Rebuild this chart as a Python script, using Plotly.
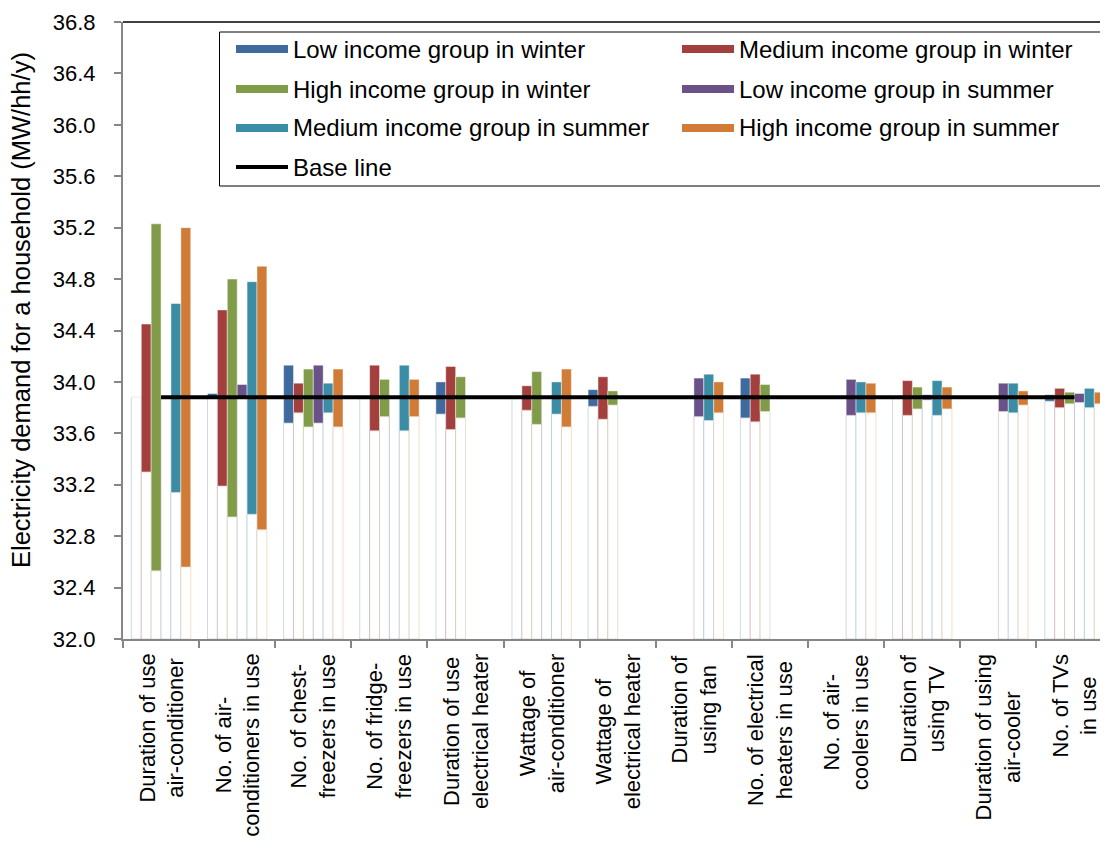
import plotly.graph_objects as go

# categories (x axis)
categories = [
    "Duration of use<br>air-conditioner",
    "No. of air-<br>conditioners in use",
    "No. of chest-<br>freezers in use",
    "No. of fridge-<br>freezers in use",
    "Duration of use<br>electrical heater",
    "Wattage of<br>air-conditioner",
    "Wattage of<br>electrical heater",
    "Duration of<br>using fan",
    "No. of electrical<br>heaters in use",
    "No. of air-<br>coolers in use",
    "Duration of<br>using TV",
    "Duration of using<br>air-cooler",
    "No. of TVs<br>in use",
]

series_names = [
    "Low income group in winter",
    "Medium income group in winter",
    "High income group in winter",
    "Low income group in summer",
    "Medium income group in summer",
    "High income group in summer",
]
series_colors = ["#3F6A9E", "#A33F3C", "#809C48", "#6A5289", "#3B8DA5", "#D07C37"]

# lower / upper ends of each range (MW/hh/y), None = not applicable
low_winter_low = [33.88, 33.88, 33.68, 33.88, 33.75, 33.88, 33.81, None, 33.72, None, 33.88, None, 33.85]
low_winter_high = [33.88, 33.91, 34.13, 33.88, 34.00, 33.88, 33.94, None, 34.03, None, 33.88, None, 33.90]

med_winter_low = [33.30, 33.19, 33.76, 33.62, 33.63, 33.78, 33.71, None, 33.69, None, 33.74, None, 33.80]
med_winter_high = [34.45, 34.56, 33.99, 34.13, 34.12, 33.97, 34.04, None, 34.06, None, 34.01, None, 33.95]

high_winter_low = [32.53, 32.95, 33.65, 33.73, 33.72, 33.67, 33.82, None, 33.77, None, 33.79, None, 33.83]
high_winter_high = [35.23, 34.80, 34.10, 34.02, 34.04, 34.08, 33.93, None, 33.98, None, 33.96, None, 33.92]

low_summer_low = [33.88, 33.88, 33.68, 33.88, None, 33.88, None, 33.73, None, 33.74, 33.86, 33.77, 33.84]
low_summer_high = [33.88, 33.98, 34.13, 33.88, None, 33.88, None, 34.03, None, 34.02, 33.90, 33.99, 33.91]

med_summer_low = [33.14, 32.97, 33.76, 33.62, None, 33.75, None, 33.70, None, 33.76, 33.74, 33.76, 33.80]
med_summer_high = [34.61, 34.78, 33.99, 34.13, None, 34.00, None, 34.06, None, 34.00, 34.01, 33.99, 33.95]

high_summer_low = [32.56, 32.85, 33.65, 33.73, None, 33.65, None, 33.76, None, 33.76, 33.79, 33.82, 33.83]
high_summer_high = [35.20, 34.90, 34.10, 34.02, None, 34.10, None, 34.00, None, 33.99, 33.96, 33.93, 33.92]

base_line = [33.88] * len(categories)

y_min, y_max = 32.0, 36.8
y_ticks = [32.0, 32.4, 32.8, 33.2, 33.6, 34.0, 34.4, 34.8, 35.2, 35.6, 36.0, 36.4, 36.8]

lows = [low_winter_low, med_winter_low, high_winter_low, low_summer_low, med_summer_low, high_summer_low]
highs = [low_winter_high, med_winter_high, high_winter_high, low_summer_high, med_summer_high, high_summer_high]

FONT = "Liberation Sans, Arial, sans-serif"
OFF = 8  # page body margin
W, H = 1108 - OFF, 855 - 2 * OFF
# plot area in screen pixels
PL, PR, PT, PB = 123, 1108, 22, 639
ML, MR, MT, MB = PL - OFF, (OFF + W) - PR, PT - OFF, (OFF + H) - PB


# screen pixel (as in the reference) -> paper coordinates
def px(xp):
    return (xp - PL) / (PR - PL)


def py(yp):
    return (PB - yp) / (PB - PT)


def rgba(hexcol, a):
    h = hexcol.lstrip("#")
    r, g, b = int(h[0:2], 16), int(h[2:4], 16), int(h[4:6], 16)
    return f"rgba({r},{g},{b},{a})"


fig = go.Figure()

for i, (name, col) in enumerate(zip(series_names, series_colors)):
    lo, hi = lows[i], highs[i]
    # invisible (white) part from the axis floor up to the lower end
    fig.add_trace(go.Bar(
        x=categories,
        y=[None if v is None else v - y_min for v in lo],
        base=[None if v is None else y_min for v in lo],
        offsetgroup=str(i),
        marker=dict(color="white", line=dict(color=rgba(col, 0.25), width=1)),
        showlegend=False,
        hoverinfo="skip",
    ))
    # coloured range
    fig.add_trace(go.Bar(
        x=categories,
        y=[None if a is None else b - a for a, b in zip(lo, hi)],
        base=lo,
        offsetgroup=str(i),
        name=name,
        marker=dict(color=col, line=dict(color="rgba(255,255,255,0.45)", width=1)),
        showlegend=False,
    ))

fig.add_trace(go.Scatter(
    x=categories, y=base_line, mode="lines", name="Base line",
    line=dict(color="black", width=4), showlegend=False,
))

# manual legend box
shapes = [
    dict(type="line", xref="paper", yref="paper", x0=0, x1=1, y0=1, y1=1,
         line=dict(color="black", width=1.5)),
    dict(type="rect", xref="paper", yref="paper", x0=px(219.5), x1=px(1106.5), y0=py(32), y1=py(186),
         line=dict(color="black", width=1), fillcolor="white"),
]
annotations = []
legend_rows = [49, 89, 128, 167]
col_x = [236, 682]
for i, (name, col) in enumerate(zip(series_names, series_colors)):
    r, c = divmod(i, 2)
    yc = legend_rows[r]
    x0 = col_x[c]
    shapes.append(dict(type="rect", xref="paper", yref="paper", x0=px(x0), x1=px(x0 + 52),
                       y0=py(yc + 4), y1=py(yc - 4), line=dict(width=0), fillcolor=col))
    annotations.append(dict(x=px(x0 + 55), y=py(yc), xref="paper", yref="paper", text=name,
                            showarrow=False, xanchor="left", yanchor="middle",
                            font=dict(family=FONT, size=24, color="black")))
shapes.append(dict(type="line", xref="paper", yref="paper", x0=px(col_x[0]), x1=px(col_x[0] + 52),
                   y0=py(legend_rows[3]), y1=py(legend_rows[3]), line=dict(color="black", width=4)))
annotations.append(dict(x=px(col_x[0] + 55), y=py(legend_rows[3]), xref="paper", yref="paper",
                        text="Base line", showarrow=False, xanchor="left", yanchor="middle",
                        font=dict(family=FONT, size=24, color="black")))

# category labels, rotated
for cat in categories:
    annotations.append(dict(x=cat, y=py(652), xref="x", yref="paper", text=cat, textangle=-90,
                            showarrow=False, xanchor="center", yanchor="top", align="center",
                            font=dict(family=FONT, size=22, color="black")))

# y axis title
annotations.append(dict(x=px(21), y=py(310), xref="paper", yref="paper",
                        text="Electricity demand for a household (MW/hh/y)", textangle=-90,
                        showarrow=False, xanchor="center", yanchor="middle",
                        font=dict(family=FONT, size=25.5, color="black")))

fig.update_layout(
    width=W, height=H,
    margin=dict(l=ML, r=MR, t=MT, b=MB),
    paper_bgcolor="white", plot_bgcolor="white",
    barmode="group", bargap=0.22, bargroupgap=0,
    showlegend=False,
    shapes=shapes, annotations=annotations,
    xaxis=dict(type="category", range=[-0.5, 12.44], tickson="boundaries",
               ticks="outside", ticklen=7, tickcolor="#868686", tickwidth=2,
               showline=True, linecolor="#868686", linewidth=2,
               showticklabels=False, showgrid=False, zeroline=False),
    yaxis=dict(range=[y_min, y_max], tickvals=y_ticks, ticktext=[f"{v:.1f}" for v in y_ticks],
               ticks="outside", ticklen=7, tickcolor="#868686", tickwidth=2,
               showline=True, linecolor="#868686", linewidth=2,
               showgrid=False, zeroline=False, ticklabelstandoff=14,
               tickfont=dict(family=FONT, size=22, color="black")),
)

fig.write_html("out.html")
